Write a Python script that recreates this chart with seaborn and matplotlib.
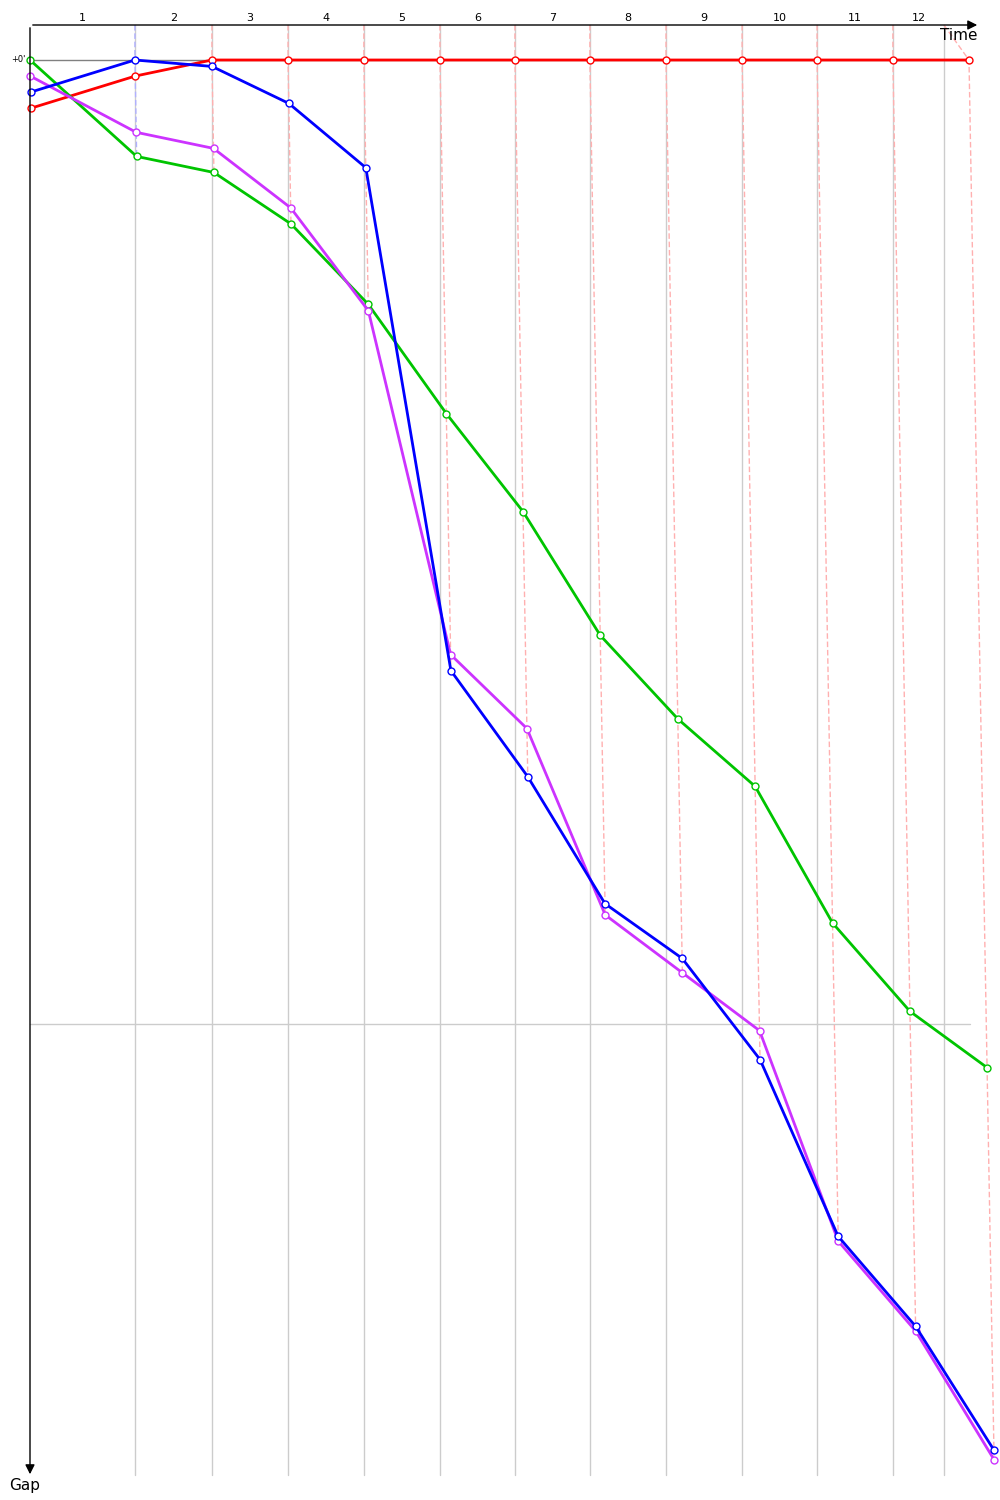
import matplotlib
matplotlib.use('Agg')
import matplotlib.pyplot as plt
import numpy as np
import pandas as pd
import seaborn as sns

# leader crossing time (s) at the start and at the end of each lap
leader_time = [0, 364, 631, 895, 1158, 1422, 1682, 1942, 2206, 2470, 2730, 2993, 3257]
time_limit = 3170
lap_labels = [str(i) for i in range(1, 13)]

# gap to the leader (s) at each crossing
gap_green = [0.0, 6.0, 7.0, 10.2, 15.2, 22.0, 28.1, 35.8, 41.0, 45.2, 53.7, 59.2, 62.7]
gap_blue = [2.0, 0.0, 0.4, 2.7, 6.7, 38.0, 44.6, 52.5, 55.9, 62.2, 73.2, 78.8, 86.5]
gap_magenta = [1.0, 4.5, 5.5, 9.2, 15.6, 37.0, 41.6, 53.2, 56.8, 60.4, 73.5, 79.1, 87.1]
gap_red = [3.0, 1.0, 0.0, 0.0, 0.0, 0.0, 0.0, 0.0, 0.0, 0.0, 0.0, 0.0, 0.0]

drivers = ['green', 'blue', 'magenta', 'red']
gaps = {'green': gap_green, 'blue': gap_blue, 'magenta': gap_magenta, 'red': gap_red}
palette = {'green': '#00c400', 'blue': '#0000ff', 'magenta': '#cc33ff', 'red': '#ff0000'}
light = {'green': '#aaeeaa', 'blue': '#b0b0ff', 'magenta': '#eeaaff', 'red': '#ffb0b0'}

rows = []
for d in drivers:
    for lap, (t, g) in enumerate(zip(leader_time, gaps[d])):
        rows.append({'driver': d, 'lap': lap, 'time': t + g, 'gap': g})
df = pd.DataFrame(rows)

# pixel -> data mapping of the canvas
px_x = 0.2883   # px per second along time
px_y = 16.07    # px per second along gap
x0, y0 = 30, 60


def tx(px):
    return (px - x0) / px_x


def gy(px):
    return (px - y0) / px_y


sns.set_theme(style='white')
plt.rcParams['font.family'] = ['DejaVu Sans']
plt.rcParams['text.color'] = 'black'
fig = plt.figure(figsize=(10, 15), dpi=100)
ax = fig.add_axes([0, 0, 1, 1])
ax.set_xlim(tx(0), tx(1000))
ax.set_ylim(gy(1500), gy(0))
ax.axis('off')

top = gy(25)
bottom = gy(1475)

# vertical lap grid and the time-limit line
for t in leader_time[1:-1] + [time_limit]:
    ax.plot([t, t], [top, bottom], color='#cccccc', lw=1, zorder=1)
# horizontal grid lines
ax.plot([0, tx(970)], [0, 0], color='#808080', lw=1, zorder=1)
ax.plot([0, tx(970)], [60, 60], color='#cccccc', lw=1, zorder=1)

# dashed lines joining the crossings of each lap
for lap in range(1, len(leader_time)):
    sub = df[df['lap'] == lap].sort_values('gap')
    leader = sub.iloc[0]['driver']
    t_top = time_limit if lap == len(leader_time) - 1 else leader_time[lap]
    xs = [t_top] + list(sub['time'])
    ys = [top] + list(sub['gap'])
    ax.plot(xs, ys, color=light[leader], lw=1, ls=(0, (4, 2)), zorder=2)

sns.lineplot(data=df, x='time', y='gap', hue='driver', palette=palette,
             hue_order=['red', 'green', 'magenta', 'blue'], estimator=None, sort=False,
             marker='o', markersize=5, markerfacecolor='white', markeredgewidth=1,
             lw=2, legend=False, ax=ax, zorder=3)
for line in ax.lines[-4:]:
    line.set_markeredgecolor(line.get_color())

# axes with arrows
ax.annotate('', xy=(tx(980), top), xytext=(0, top),
            arrowprops=dict(arrowstyle='-|>', color='black', lw=1, mutation_scale=14))
ax.annotate('', xy=(0, gy(1477)), xytext=(0, top),
            arrowprops=dict(arrowstyle='-|>', color='black', lw=1, mutation_scale=14))
ax.text(tx(977), gy(36), 'Time', ha='right', va='center', fontsize=11, color='black')
ax.text(tx(25), gy(1485), 'Gap', ha='center', va='center', fontsize=11, color='black')
ax.text(tx(26), 0, "+0'", ha='right', va='center', fontsize=6, color='black')

bounds = [0] + leader_time[1:-1] + [time_limit]
for i, lab in enumerate(lap_labels):
    ax.text((bounds[i] + bounds[i + 1]) / 2, gy(18), lab, ha='center', va='center',
            fontsize=8, color='black')

fig.savefig('out.png', dpi=100)
